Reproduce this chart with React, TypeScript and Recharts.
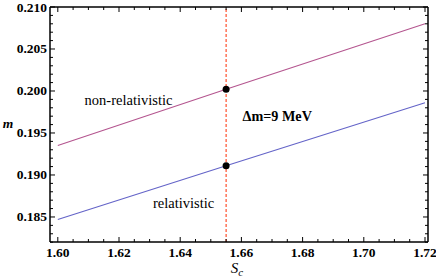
import React from 'react';
import { ComposedChart, Line, XAxis, YAxis, ReferenceLine, ReferenceDot } from 'recharts';

// S_c values along each curve (ends + marked point)
const sc = [1.6, 1.655, 1.72];
const nonRelativistic = [0.1935, 0.2002, 0.208];
const relativistic = [0.1847, 0.1911, 0.1986];
const markerSc = 1.655;

const xMajor = [1.6, 1.62, 1.64, 1.66, 1.68, 1.7, 1.72];
const yMajor = [0.185, 0.19, 0.195, 0.2, 0.205, 0.21];

const xDomain = [1.59745, 1.72098];
const yDomain = [0.18202, 0.21];

// minor ticks between the labelled ones
const xTicks: number[] = [];
for (let i = 0; i <= 24; i++) xTicks.push(+(1.6 + i * 0.005).toFixed(3));
const yTicks: number[] = [];
for (let i = 0; i <= 28; i++) yTicks.push(+(0.182 + i * 0.001).toFixed(3));

const isMajor = (v: number, majors: number[]) => majors.some(m => Math.abs(m - v) < 1e-6);

const data = sc.map((x, i) => ({ x, nonrel: nonRelativistic[i], rel: relativistic[i] }));

const FONT = 'Liberation Serif, Times New Roman, serif';

const BottomTick = ({ x, y, payload }: any) => {
  const major = isMajor(payload.value, xMajor);
  return (
    <g>
      <line x1={x} x2={x} y1={y} y2={y - (major ? 5 : 3)} stroke="#000" strokeWidth={1} />
      {major && (
        <text x={x} y={y + 15} textAnchor="middle" fontFamily={FONT} fontWeight="bold" fontSize={13.5} fill="#000">
          {payload.value.toFixed(2)}
        </text>
      )}
    </g>
  );
};

const TopTick = ({ x, y, payload }: any) => {
  const major = isMajor(payload.value, xMajor);
  return <line x1={x} x2={x} y1={y} y2={y + (major ? 5 : 3)} stroke="#000" strokeWidth={1} />;
};

const LeftTick = ({ x, y, payload }: any) => {
  const major = isMajor(payload.value, yMajor);
  return (
    <g>
      <line x1={x} x2={x + (major ? 5 : 3)} y1={y} y2={y} stroke="#000" strokeWidth={1} />
      {major && (
        <text x={x - 3} y={y + 4.5} textAnchor="end" fontFamily={FONT} fontWeight="bold" fontSize={13.5} fill="#000">
          {payload.value.toFixed(3)}
        </text>
      )}
    </g>
  );
};

const RightTick = ({ x, y, payload }: any) => {
  const major = isMajor(payload.value, yMajor);
  return <line x1={x} x2={x - (major ? 5 : 3)} y1={y} y2={y} stroke="#000" strokeWidth={1} />;
};

const MarkerDot = (props: any) => {
  const { cx, cy, payload, index } = props;
  if (payload.x !== markerSc) return <g key={index} />;
  return <circle key={index} cx={cx} cy={cy} r={3.5} fill="#000" />;
};

const XTitle = ({ viewBox }: any) => (
  <text x={viewBox.x + viewBox.width / 2 - 2} y={viewBox.y + 31} textAnchor="middle" fontFamily={FONT} fontStyle="italic" fontSize={15} fill="#000">
    S<tspan fontSize={11} dy={3}>c</tspan>
  </text>
);

const YTitle = ({ viewBox }: any) => (
  <text x={viewBox.x + 8} y={viewBox.y + viewBox.height / 2 + 3} textAnchor="middle" fontFamily={FONT} fontStyle="italic" fontWeight="bold" fontSize={13.5} fill="#000">
    m
  </text>
);

const textLabel = (value: string, bold = false) => ({
  value,
  position: 'center' as const,
  fontFamily: FONT,
  fontSize: bold ? 14.2 : 14.5,
  fontWeight: bold ? 'bold' : 'normal',
  fill: '#000',
});

export default function App() {
  return (
    <div style={{ position: 'absolute', left: 0, top: 0, background: '#fff' }}>
      <ComposedChart width={436} height={278} data={data} margin={{ top: 6, right: 7, left: 0, bottom: 0 }}>
        <XAxis
          xAxisId="b"
          dataKey="x"
          type="number"
          domain={xDomain}
          allowDataOverflow
          ticks={xTicks}
          interval={0}
          tickSize={0}
          tickMargin={0}
          tickLine={false}
          tick={<BottomTick />}
          height={36}
          axisLine={{ stroke: '#000', strokeWidth: 1.5 }}
          label={<XTitle />}
        />
        <XAxis
          xAxisId="t"
          orientation="top"
          dataKey="x"
          type="number"
          domain={xDomain}
          allowDataOverflow
          ticks={xTicks}
          interval={0}
          tickSize={0}
          tickMargin={0}
          tickLine={false}
          tick={<TopTick />}
          height={1}
          axisLine={{ stroke: '#000', strokeWidth: 1.5 }}
        />
        <YAxis
          yAxisId="l"
          type="number"
          domain={yDomain}
          allowDataOverflow
          ticks={yTicks}
          interval={0}
          tickSize={0}
          tickMargin={0}
          tickLine={false}
          tick={<LeftTick />}
          width={50}
          axisLine={{ stroke: '#000', strokeWidth: 1.5 }}
          label={<YTitle />}
        />
        <YAxis
          yAxisId="r"
          orientation="right"
          type="number"
          domain={yDomain}
          allowDataOverflow
          ticks={yTicks}
          interval={0}
          tickSize={0}
          tickMargin={0}
          tickLine={false}
          tick={<RightTick />}
          width={1}
          axisLine={{ stroke: '#000', strokeWidth: 1.5 }}
        />
        <ReferenceLine xAxisId="b" yAxisId="l" x={markerSc} stroke="#ff2a00" strokeWidth={1} strokeDasharray="3 2" />
        <Line
          xAxisId="b"
          yAxisId="l"
          dataKey="nonrel"
          stroke="#b4558f"
          strokeWidth={1.1}
          dot={<MarkerDot />}
          activeDot={false}
          isAnimationActive={false}
        />
        <Line
          xAxisId="b"
          yAxisId="l"
          dataKey="rel"
          stroke="#6464c8"
          strokeWidth={1.1}
          dot={<MarkerDot />}
          activeDot={false}
          isAnimationActive={false}
        />
        <ReferenceDot xAxisId="b" yAxisId="l" x={1.6231} y={0.19893} r={0} stroke="none" label={textLabel('non-relativistic')} />
        <ReferenceDot xAxisId="b" yAxisId="l" x={1.6411} y={0.18667} r={0} stroke="none" label={textLabel('relativistic')} />
        <ReferenceDot xAxisId="b" yAxisId="l" x={1.6717} y={0.19702} r={0} stroke="none" label={textLabel('Δm=9 MeV', true)} />
      </ComposedChart>
    </div>
  );
}
